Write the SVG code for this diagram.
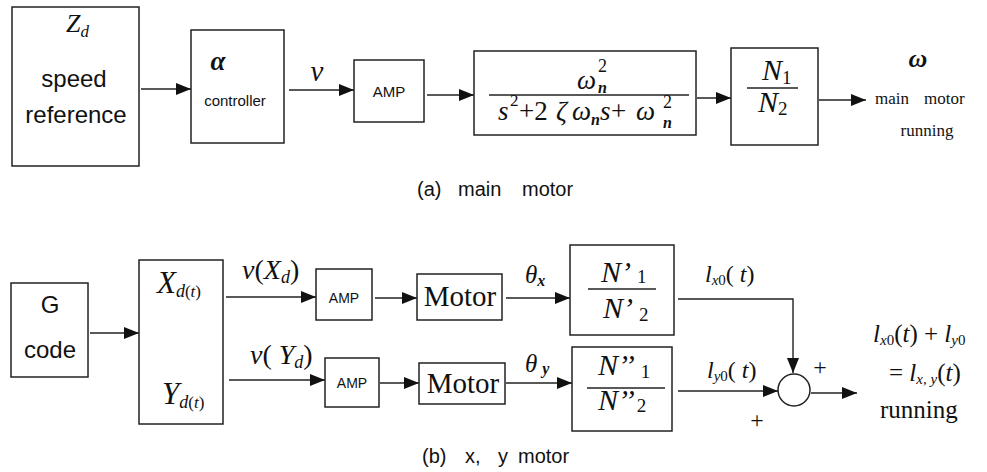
<svg xmlns="http://www.w3.org/2000/svg" width="987" height="472" viewBox="0 0 987 472">
<style>
.box{fill:#fff;stroke:#222;stroke-width:1.5}
.ln{fill:none;stroke:#222;stroke-width:1.4}
.sans{font-family:"Liberation Sans",Arial,sans-serif;fill:#111}
.ser{font-family:"Liberation Serif","Times New Roman",serif;fill:#111}
.it{font-family:"Liberation Serif","Times New Roman",serif;font-style:italic;fill:#111}
.up{font-style:normal}
</style>
<defs>
<marker id="ah" markerUnits="userSpaceOnUse" markerWidth="16" markerHeight="12" refX="15" refY="6" orient="auto">
<path d="M0,0 L15,6 L0,12 Z" fill="#111"/>
</marker>
</defs>
<rect width="987" height="472" fill="#fff"/>

<g id="connectors">
<line class="ln" x1="141" y1="89" x2="191" y2="89" marker-end="url(#ah)"/>
<line class="ln" x1="289" y1="90" x2="354" y2="90" marker-end="url(#ah)"/>
<line class="ln" x1="427" y1="95" x2="474" y2="95" marker-end="url(#ah)"/>
<line class="ln" x1="697" y1="98" x2="731" y2="98" marker-end="url(#ah)"/>
<line class="ln" x1="819" y1="100" x2="866" y2="100" marker-end="url(#ah)"/>
<line class="ln" x1="90" y1="333" x2="139" y2="333" marker-end="url(#ah)"/>
<line class="ln" x1="226" y1="297" x2="316" y2="297" marker-end="url(#ah)"/>
<line class="ln" x1="229" y1="380" x2="325" y2="380" marker-end="url(#ah)"/>
<line class="ln" x1="375" y1="298" x2="417" y2="298" marker-end="url(#ah)"/>
<line class="ln" x1="506" y1="298" x2="570" y2="298" marker-end="url(#ah)"/>
<line class="ln" x1="380" y1="383" x2="419" y2="383" marker-end="url(#ah)"/>
<line class="ln" x1="506" y1="383" x2="572" y2="383" marker-end="url(#ah)"/>
<polyline class="ln" points="678,299 793,299 793,373" marker-end="url(#ah)"/>
<line class="ln" x1="678" y1="391" x2="778" y2="391" marker-end="url(#ah)"/>
<line class="ln" x1="811" y1="393" x2="857" y2="393" marker-end="url(#ah)"/>
</g>

<g id="speed-reference">
<rect class="box" x="12" y="7" width="127" height="159"/>
<text class="it" x="66" y="32" font-size="26">Z<tspan font-size="17" dy="5">d</tspan></text>
<text class="sans" x="74" y="87" font-size="24" text-anchor="middle">speed</text>
<text class="sans" x="76" y="123" font-size="24" text-anchor="middle">reference</text>
</g>

<g id="controller">
<rect class="box" x="191" y="30" width="93" height="113"/>
<text class="it" x="218" y="70" font-size="27" font-weight="bold" text-anchor="middle">α</text>
<text class="sans" x="235" y="106" font-size="15" text-anchor="middle">controller</text>
</g>
<text class="it" x="317" y="81" font-size="29" text-anchor="middle">v</text>

<g id="amp-main">
<rect class="box" x="354" y="60" width="70" height="62"/>
<text class="sans" x="389" y="97" font-size="15" text-anchor="middle">AMP</text>
</g>

<g id="transfer">
<rect class="box" x="474" y="51" width="222" height="84"/>
<text class="it" font-size="27"><tspan x="577" y="89">ω</tspan><tspan class="up" x="598" y="72" font-size="18">2</tspan><tspan x="598" y="93" font-size="16" font-weight="bold">n</tspan></text>
<line class="ln" x1="489" y1="95" x2="689" y2="95"/>
<text class="it" font-size="27"><tspan x="498" y="120">s</tspan><tspan class="up" x="510" y="106" font-size="17">2</tspan><tspan class="up" x="519" y="120">+2</tspan><tspan x="556" y="120">ζ</tspan><tspan x="572" y="120">ω</tspan><tspan x="591" y="125" font-size="16" font-weight="bold">n</tspan><tspan x="600" y="120">s</tspan><tspan class="up" x="611" y="120">+</tspan><tspan x="636" y="120">ω</tspan><tspan class="up" x="663" y="108" font-size="18">2</tspan><tspan x="663" y="128" font-size="16" font-weight="bold">n</tspan></text>
</g>

<g id="gear-main">
<rect class="box" x="731" y="48" width="87" height="97"/>
<text class="it" x="762" y="80" font-size="30">N<tspan class="up" font-size="19" dy="4">1</tspan></text>
<line class="ln" x1="747" y1="88" x2="798" y2="88"/>
<text class="it" x="758" y="112" font-size="30">N<tspan class="up" font-size="19" dy="3">2</tspan></text>
</g>

<g id="output-main">
<text class="it" x="918" y="67" font-size="26" font-weight="bold" text-anchor="middle">ω</text>
<text class="ser" y="104" font-size="17"><tspan x="875">main</tspan><tspan x="924">motor</tspan></text>
<text class="ser" x="927" y="136" font-size="17" text-anchor="middle">running</text>
</g>

<text class="sans" y="196" font-size="20"><tspan x="417">(a)</tspan><tspan x="458">main</tspan><tspan x="522">motor</tspan></text>

<g id="gcode">
<rect class="box" x="11" y="283" width="77" height="94"/>
<text class="sans" x="50" y="313" font-size="24" text-anchor="middle">G</text>
<text class="sans" x="50" y="358" font-size="24" text-anchor="middle">code</text>
</g>

<g id="xy-ref">
<rect class="box" x="139" y="260" width="84" height="164"/>
<text class="it" x="157" y="293" font-size="31">X<tspan font-size="18" dy="4">d</tspan><tspan class="up" font-size="17">(</tspan><tspan font-size="17">t</tspan><tspan class="up" font-size="17">)</tspan></text>
<text class="it" x="162" y="404" font-size="31">Y<tspan font-size="18" dy="4">d</tspan><tspan class="up" font-size="17">(</tspan><tspan font-size="17">t</tspan><tspan class="up" font-size="17">)</tspan></text>
</g>
<text class="it" x="242" y="279" font-size="28">v<tspan class="up">(</tspan>X<tspan font-size="18" dy="4">d</tspan><tspan class="up" dy="-4">)</tspan></text>
<text class="it" x="250" y="364" font-size="28">v<tspan class="up">(</tspan> Y<tspan font-size="18" dy="4">d</tspan><tspan class="up" dy="-4">)</tspan></text>

<g id="amp-x">
<rect class="box" x="316" y="269" width="56" height="51"/>
<text class="sans" x="344" y="303" font-size="14" text-anchor="middle">AMP</text>
</g>
<g id="motor-x">
<rect class="box" x="417" y="274" width="85" height="46"/>
<text class="ser" x="460" y="306" font-size="29" text-anchor="middle">Motor</text>
</g>
<text class="it" x="525" y="283" font-size="25">θ<tspan font-size="16" dy="3" font-weight="bold">x</tspan></text>

<g id="gear-x">
<rect class="box" x="570" y="245" width="104" height="90"/>
<text class="it" x="601" y="282" font-size="30">N’<tspan class="up" font-size="19" dx="6" dy="1">1</tspan></text>
<line class="ln" x1="588" y1="289" x2="656" y2="289"/>
<text class="it" x="603" y="318" font-size="30">N’<tspan class="up" font-size="19" dx="6" dy="3">2</tspan></text>
</g>

<g id="amp-y">
<rect class="box" x="325" y="358" width="54" height="49"/>
<text class="sans" x="352" y="388" font-size="14" text-anchor="middle">AMP</text>
</g>
<g id="motor-y">
<rect class="box" x="419" y="363" width="86" height="41"/>
<text class="ser" x="463" y="393" font-size="29" text-anchor="middle">Motor</text>
</g>
<text class="it" x="525" y="372" font-size="25">θ<tspan font-size="16" dx="5" dy="2" font-weight="bold">y</tspan></text>

<g id="gear-y">
<rect class="box" x="572" y="347" width="100" height="84"/>
<text class="it" x="598" y="375" font-size="30">N’’<tspan class="up" font-size="19" dx="6" dy="3">1</tspan></text>
<line class="ln" x1="587" y1="388" x2="665" y2="388"/>
<text class="it" x="598" y="410" font-size="30">N’’<tspan class="up" font-size="19" dx="2" dy="2">2</tspan></text>
</g>

<text class="it" x="705" y="282" font-size="24">l<tspan font-size="15" dy="3">x</tspan><tspan class="up" font-size="15">0</tspan><tspan class="up" dy="-3">(</tspan> t<tspan class="up">)</tspan></text>
<text class="it" x="707" y="378" font-size="24">l<tspan font-size="15" dy="3">y</tspan><tspan class="up" font-size="15">0</tspan><tspan class="up" dy="-3">(</tspan> t<tspan class="up">)</tspan></text>

<g id="sum">
<circle cx="794" cy="390" r="16" fill="#fff" stroke="#222" stroke-width="1.5"/>
</g>
<text class="ser" x="820" y="375" font-size="24" text-anchor="middle">+</text>
<text class="ser" x="757" y="428" font-size="24" text-anchor="middle">+</text>

<g id="output-xy">
<text class="it" x="873" y="342" font-size="25">l<tspan font-size="15" dy="3">x</tspan><tspan class="up" font-size="15">0</tspan><tspan class="up" dy="-3">(</tspan>t<tspan class="up">) + </tspan>l<tspan font-size="15" dy="3">y</tspan><tspan class="up" font-size="15">0</tspan></text>
<text class="it" x="889" y="381" font-size="25"><tspan class="up">= </tspan>l<tspan font-size="15" dy="3">x, y</tspan><tspan class="up" dy="-3">(</tspan>t<tspan class="up">)</tspan></text>
<text class="ser" x="880" y="418" font-size="25">running</text>
</g>

<text class="sans" y="463" font-size="20"><tspan x="422">(b)</tspan><tspan x="465">x,</tspan><tspan x="498">y</tspan><tspan x="518">motor</tspan></text>
</svg>
